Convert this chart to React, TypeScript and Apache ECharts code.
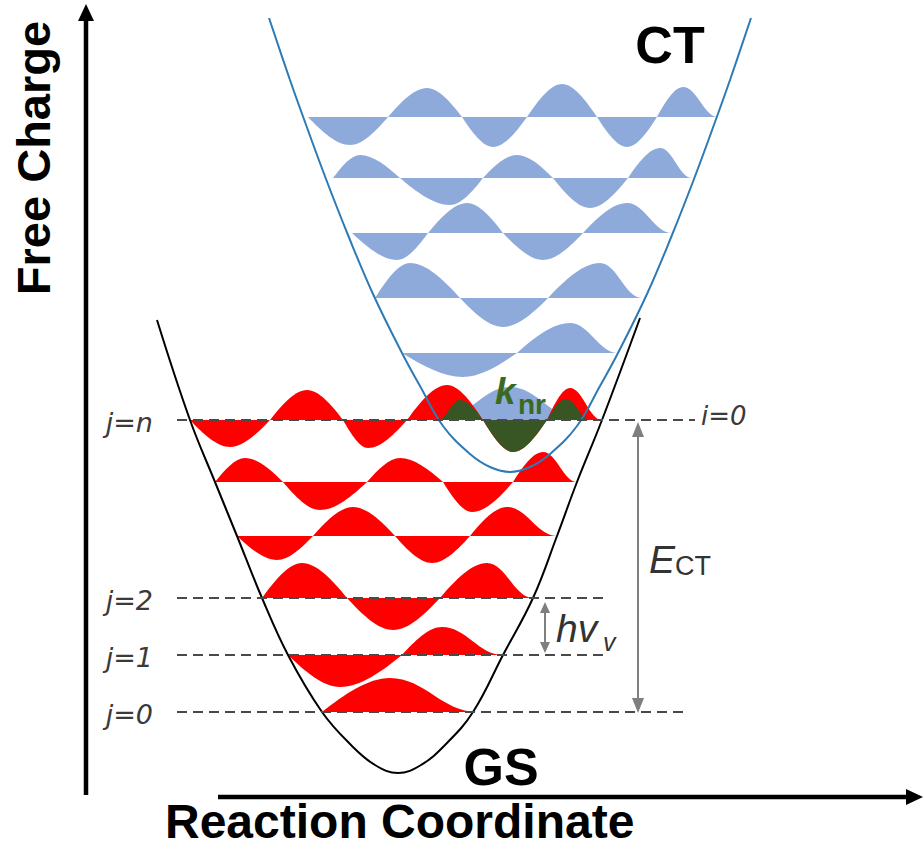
import React, { useEffect, useRef } from "react";
import * as echarts from "echarts";

// ---------------- Data (x = reaction coordinate, E = free energy; frame 0..923 x 0..846) ----------------
const gsCurve: number[][] = [
  [157, 526], [190, 426], [215, 364], [237, 310], [262, 248], [288, 191], [322, 134], [350, 102], [375, 81],
  [398, 73], [421, 81], [446, 102], [473, 134], [503, 191], [533, 248], [557, 310], [577, 364], [602, 426], [640, 528],
];
const ctCurve: number[][] = [
  [269, 828], [290, 766], [305, 724], [326, 667], [348, 611], [373, 552], [402, 493], [420, 460], [443, 420],
  [470, 392], [490, 379], [510, 374], [530, 379], [550, 392], [577, 420], [600, 460], [618, 493], [647, 552],
  [672, 611], [694, 667], [715, 724], [730, 766], [751, 828],
];

// vibrational wave-functions: each lobe = [start x, peak x, end x, signed amplitude]
const gsLevelEnergy = [134, 191, 248, 310, 364, 426];
const gsLobes: number[][][] = [
  [[322, 390, 477, 34]],
  [[288, 340, 402, -32], [402, 442, 503, 28]],
  [[262, 302, 347, 35], [347, 393, 440, -32], [440, 487, 533, 35]],
  [[237, 277, 313, -24], [313, 353, 395, 29], [395, 432, 470, -27], [470, 507, 557, 29]],
  [[215, 245, 283, 24], [283, 320, 367, -28], [367, 400, 443, 24], [443, 472, 513, -30], [513, 543, 577, 30]],
  [[190, 230, 270, -27], [270, 307, 343, 30], [343, 368, 407, -28], [407, 447, 483, 35], [483, 513, 547, -32], [547, 570, 602, 32]],
];
const gsTaperLeft = [false, false, false, false, false, false];

const ctLevelEnergy = [426, 493, 548, 613, 668, 729];
const ctLobes: number[][][] = [
  [[440, 510, 580, 33]],
  [[402, 463, 517, -24], [517, 570, 618, 30]],
  [[375, 410, 460, 35], [460, 503, 548, -29], [548, 600, 642, 35]],
  [[352, 397, 428, -27], [428, 467, 503, 30], [503, 543, 583, -27], [583, 627, 672, 30]],
  [[333, 360, 400, 23], [400, 450, 483, -27], [483, 517, 553, 23], [553, 590, 628, -30], [628, 660, 692, 30]],
  [[308, 350, 388, -28], [388, 427, 462, 29], [462, 493, 527, -30], [527, 562, 597, 33], [597, 627, 657, -30], [657, 683, 718, 30]],
];
const ctTaperLeft = [true, false, false, false, false, false];

const overlapEnergy = [426];
const overlapLobes: number[][][] = [[[438, 460, 483, 20], [483, 513, 547, -32], [547, 566, 590, 21]]];
const overlapTaperLeft = [true];

// dashed level lines: [from x, to x, E]
const levelLines: number[][] = [[177, 695, 426], [177, 606, 248], [177, 606, 191], [177, 686, 134]];
const levelLabels = ["j=n", "j=2", "j=1", "j=0"];

// energy-gap arrows: [x, lower E, upper E]
const gapArrows: number[][] = [[638, 133, 424], [545, 193, 244]];

// ---------------- Styles ----------------
const RED = "#ff0000";
const BLUE_FILL = "#8eaadb";
const GREEN = "#375623";
const CT_LINE = "#2e7ab5";
const SANS = '"Liberation Sans", Arial, Helvetica, sans-serif';
const OBL = '"DejaVu Sans", sans-serif';

function lobePath(api: any, base: number, lb: number[], taperL: boolean, taperR: boolean) {
  const [x0, xp, x1, amp] = lb;
  const P = (x: number, e: number) => {
    const c = api.coord([x, e]);
    return c[0].toFixed(2) + " " + c[1].toFixed(2);
  };
  const dl = xp - x0;
  const dr = x1 - xp;
  const top = base + amp;
  const l1 = taperL ? P(x0 + 0.4 * dl, base) : P(x0 + 0.3261 * dl, base + 0.5122 * amp);
  const l2 = taperL ? P(x0 + 0.6 * dl, top) : P(x0 + 0.6739 * dl, top);
  const r1 = taperR ? P(xp + 0.4 * dr, top) : P(xp + 0.3261 * dr, top);
  const r2 = taperR ? P(xp + 0.6 * dr, base) : P(xp + 0.6739 * dr, base + 0.5122 * amp);
  return `M${P(x0, base)} C${l1} ${l2} ${P(xp, top)} C${r1} ${r2} ${P(x1, base)} Z`;
}

function waveSeries(name: string, energies: number[], lobes: number[][][], taperLeft: boolean[], color: string, z: number) {
  return {
    type: "custom",
    name,
    z,
    silent: true,
    coordinateSystem: "cartesian2d",
    data: energies.map((e, i) => [lobes[i][0][0], e]),
    encode: { x: 0, y: 1 },
    renderItem: (params: any, api: any) => {
      const i = params.dataIndex;
      const base = api.value(1);
      const lv = lobes[i];
      return {
        type: "group",
        children: lv.map((lb, k) => ({
          type: "path",
          shape: { pathData: lobePath(api, base, lb, k === 0 && taperLeft[i], k === lv.length - 1) },
          style: { fill: color, stroke: null },
        })),
      };
    },
  };
}

function txt(text: string, x: number, y: number, font: string, fill: string, align = "left", extra: any = {}) {
  return {
    type: "text",
    x,
    y,
    z: 100,
    silent: true,
    ...extra,
    style: { text, font, fill, align, verticalAlign: "middle", textAlign: align, textVerticalAlign: "middle" },
  };
}

export default function App() {
  const ref = useRef<HTMLDivElement>(null);
  useEffect(() => {
    document.body.style.margin = "0";
    const chart = echarts.init(ref.current!, null, { renderer: "svg" });
    const option: any = {
      animation: false,
      grid: { left: 0, right: 0, top: 0, bottom: 0 },
      xAxis: { type: "value", min: 0, max: 923, show: false },
      yAxis: { type: "value", min: 0, max: 846, show: false },
      series: [
        waveSeries("CT vibrational levels", ctLevelEnergy, ctLobes, ctTaperLeft, BLUE_FILL, 1),
        waveSeries("GS vibrational levels", gsLevelEnergy, gsLobes, gsTaperLeft, RED, 2),
        waveSeries("overlap", overlapEnergy, overlapLobes, overlapTaperLeft, GREEN, 3),
        {
          type: "line",
          name: "GS",
          data: gsCurve,
          smooth: 0.4,
          showSymbol: false,
          silent: true,
          z: 4,
          lineStyle: { color: "#000", width: 2 },
        },
        {
          type: "line",
          name: "CT",
          data: ctCurve,
          smooth: 0.4,
          showSymbol: false,
          silent: true,
          z: 4,
          lineStyle: { color: CT_LINE, width: 2 },
        },
        {
          type: "custom",
          name: "levels",
          z: 5,
          silent: true,
          data: levelLines,
          encode: { x: [0, 1], y: 2 },
          renderItem: (params: any, api: any) => {
            const a = api.coord([api.value(0), api.value(2)]);
            const b = api.coord([api.value(1), api.value(2)]);
            return {
              type: "group",
              children: [
                {
                  type: "line",
                  shape: { x1: a[0], y1: a[1], x2: b[0], y2: b[1] },
                  style: { stroke: "#4a4a4a", lineWidth: 2, lineDash: [10, 6] },
                },
                {
                  type: "text",
                  x: a[0] - 24,
                  y: a[1] + 2,
                  style: {
                    text: levelLabels[params.dataIndex],
                    font: `italic 27px ${OBL}`,
                    fill: "#3a3a3a",
                    align: "right",
                    verticalAlign: "middle",
                  },
                },
              ],
            };
          },
        },
        {
          type: "custom",
          name: "gaps",
          z: 6,
          silent: true,
          data: gapArrows,
          encode: { x: 0, y: [1, 2] },
          renderItem: (params: any, api: any) => {
            const lo = api.coord([api.value(0), api.value(1)]);
            const hi = api.coord([api.value(0), api.value(2)]);
            const hl = params.dataIndex === 0 ? 15 : 11;
            const hw = params.dataIndex === 0 ? 6 : 5;
            const col = "#7f7f7f";
            return {
              type: "group",
              children: [
                {
                  type: "line",
                  shape: { x1: hi[0], y1: hi[1] + hl - 2, x2: lo[0], y2: lo[1] - hl + 2 },
                  style: { stroke: col, lineWidth: 2 },
                },
                {
                  type: "polygon",
                  shape: { points: [[hi[0], hi[1]], [hi[0] - hw, hi[1] + hl], [hi[0] + hw, hi[1] + hl]] },
                  style: { fill: col },
                },
                {
                  type: "polygon",
                  shape: { points: [[lo[0], lo[1]], [lo[0] - hw, lo[1] - hl], [lo[0] + hw, lo[1] - hl]] },
                  style: { fill: col },
                },
              ],
            };
          },
        },
      ],
      graphic: [
        // axes arrows
        { type: "line", z: 100, silent: true, shape: { x1: 86, y1: 795, x2: 86, y2: 18 }, style: { stroke: "#000", lineWidth: 4.5 } },
        { type: "polygon", z: 100, silent: true, shape: { points: [[86, 4], [78, 21], [94, 21]] }, style: { fill: "#000" } },
        { type: "line", z: 100, silent: true, shape: { x1: 218, y1: 797, x2: 910, y2: 797 }, style: { stroke: "#000", lineWidth: 4.5 } },
        { type: "polygon", z: 100, silent: true, shape: { points: [[923, 797], [906, 789], [906, 805]] }, style: { fill: "#000" } },
        // titles
        txt("Free Charge", 33, 158, `bold 47px ${SANS}`, "#000", "center", { rotation: Math.PI / 2 }),
        txt("Reaction Coordinate", 165, 821, `bold 48px ${SANS}`, "#000", "left"),
        txt("CT", 670, 45, `bold 52px ${SANS}`, "#000", "center"),
        txt("GS", 501, 767, `bold 52px ${SANS}`, "#000", "center"),
        // annotations
        txt("i=0", 701, 416, `italic 26px ${OBL}`, "#3a3a3a", "left"),
        txt("E", 649, 559, `italic 39px ${SANS}`, "#333", "left"),
        txt("CT", 675, 566, `27px ${SANS}`, "#333", "left"),
        txt("hv", 556, 628, `italic 39px ${SANS}`, "#333", "left"),
        txt("v", 603, 642, `italic 25px ${SANS}`, "#333", "left"),
        txt("k", 495, 391, `bold italic 37px ${SANS}`, "#3a6a22", "left"),
        txt("nr", 518, 404, `bold 28px ${SANS}`, "#3a6a22", "left"),
      ],
    };
    chart.setOption(option);
    return () => chart.dispose();
  }, []);
  return <div ref={ref} style={{ width: 923, height: 846 }} />;
}
